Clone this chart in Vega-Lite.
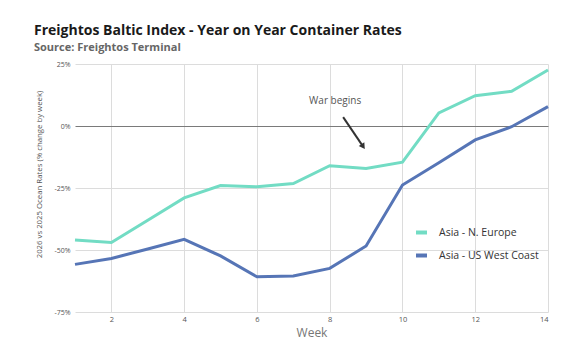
{
  "$schema": "https://vega.github.io/schema/vega-lite/v6.json",
  "width": 473,
  "height": 248,
  "autosize": {"type": "none"},
  "padding": {"left": 75, "top": 64, "right": 32, "bottom": 39},
  "background": "white",
  "title": {
    "text": "Freightos Baltic Index - Year on Year Container Rates",
    "subtitle": "Source: Freightos Terminal",
    "anchor": "start",
    "frame": "group",
    "dx": -41,
    "offset": 7,
    "font": "Open Sans",
    "fontSize": 14,
    "fontWeight": "bold",
    "color": "#1a1a1a",
    "subtitleFont": "Open Sans",
    "subtitleFontSize": 11,
    "subtitleFontWeight": "bold",
    "subtitleColor": "#666666",
    "subtitlePadding": 4
  },
  "config": {
    "view": {"stroke": null},
    "axis": {"labelFont": "Open Sans", "titleFont": "Open Sans"}
  },
  "datasets": {
    "rates": [
      {"week": 1, "route": "Asia - N. Europe", "value": -46},
      {"week": 2, "route": "Asia - N. Europe", "value": -47},
      {"week": 3, "route": "Asia - N. Europe", "value": -38},
      {"week": 4, "route": "Asia - N. Europe", "value": -29},
      {"week": 5, "route": "Asia - N. Europe", "value": -24},
      {"week": 6, "route": "Asia - N. Europe", "value": -24.5},
      {"week": 7, "route": "Asia - N. Europe", "value": -23.2},
      {"week": 8, "route": "Asia - N. Europe", "value": -16},
      {"week": 9, "route": "Asia - N. Europe", "value": -17.1},
      {"week": 10, "route": "Asia - N. Europe", "value": -14.6},
      {"week": 11, "route": "Asia - N. Europe", "value": 5.3},
      {"week": 12, "route": "Asia - N. Europe", "value": 12.2},
      {"week": 13, "route": "Asia - N. Europe", "value": 14},
      {"week": 14, "route": "Asia - N. Europe", "value": 22.6},
      {"week": 1, "route": "Asia - US West Coast", "value": -55.8},
      {"week": 2, "route": "Asia - US West Coast", "value": -53.4},
      {"week": 3, "route": "Asia - US West Coast", "value": -49.6},
      {"week": 4, "route": "Asia - US West Coast", "value": -45.7},
      {"week": 5, "route": "Asia - US West Coast", "value": -52.4},
      {"week": 6, "route": "Asia - US West Coast", "value": -60.8},
      {"week": 7, "route": "Asia - US West Coast", "value": -60.5},
      {"week": 8, "route": "Asia - US West Coast", "value": -57.4},
      {"week": 9, "route": "Asia - US West Coast", "value": -48.4},
      {"week": 10, "route": "Asia - US West Coast", "value": -23.8},
      {"week": 11, "route": "Asia - US West Coast", "value": -14.8},
      {"week": 12, "route": "Asia - US West Coast", "value": -5.6},
      {"week": 13, "route": "Asia - US West Coast", "value": -0.3},
      {"week": 14, "route": "Asia - US West Coast", "value": 7.8}
    ],
    "note": [
      {"label": "War begins", "tx": 8.15, "ty": 10.1, "ax": 8.37, "ay": 3.6, "bx": 8.92, "by": -8.3}
    ]
  },
  "layer": [
    {
      "data": {"name": "rates"},
      "mark": {"type": "line", "strokeWidth": 3, "interpolate": "linear"},
      "encoding": {
        "x": {
          "field": "week",
          "type": "quantitative",
          "scale": {"domain": [1, 14], "nice": false, "zero": false},
          "axis": {
            "values": [2, 4, 6, 8, 10, 12, 14],
            "title": "Week",
            "titleFontSize": 12,
            "titleFontWeight": "normal",
            "titleColor": "#777777",
            "titlePadding": 5,
            "labelFontSize": 7.5,
            "labelColor": "#555555",
            "labelPadding": 3,
            "domain": false,
            "ticks": false,
            "grid": true,
            "gridColor": "#dcdcdc",
            "gridWidth": 1
          }
        },
        "y": {
          "field": "value",
          "type": "quantitative",
          "scale": {"domain": [-75, 25], "nice": false, "zero": false},
          "axis": {
            "values": [-75, -50, -25, 0, 25],
            "labelExpr": "datum.value + '%'",
            "title": "2026 vs 2025 Ocean Rates  (% change by week)",
            "titleFontSize": 7.8,
            "titleFontWeight": "normal",
            "titleColor": "#555555",
            "titlePadding": 10,
            "titleY": 110,
            "labelFontSize": 7,
            "labelColor": "#555555",
            "labelPadding": 5,
            "domain": false,
            "ticks": false,
            "grid": true,
            "gridColor": {"condition": {"test": "datum.value === 0", "value": "#7a7a7a"}, "value": "#dcdcdc"},
            "gridWidth": 1
          }
        },
        "color": {
          "field": "route",
          "type": "nominal",
          "scale": {"domain": ["Asia - N. Europe", "Asia - US West Coast"], "range": ["#72dcc4", "#5675b6"]},
          "legend": {
            "title": null,
            "orient": "none",
            "legendX": 339,
            "legendY": 161,
            "symbolType": "stroke",
            "symbolStrokeWidth": 4,
            "symbolSize": 120,
            "labelFont": "Open Sans",
            "labelFontSize": 10.5,
            "labelColor": "#333333",
            "labelOffset": 10,
            "rowPadding": 6
          }
        }
      }
    },
    {
      "data": {"name": "note"},
      "mark": {"type": "text", "font": "Open Sans", "fontSize": 10, "color": "#555555"},
      "encoding": {
        "x": {"field": "tx", "type": "quantitative"},
        "y": {"field": "ty", "type": "quantitative"},
        "text": {"field": "label"}
      }
    },
    {
      "data": {"name": "note"},
      "mark": {"type": "rule", "color": "#333333", "strokeWidth": 2},
      "encoding": {
        "x": {"field": "ax", "type": "quantitative"},
        "y": {"field": "ay", "type": "quantitative"},
        "x2": {"field": "bx"},
        "y2": {"field": "by"}
      }
    },
    {
      "data": {"name": "note"},
      "mark": {"type": "point", "shape": "triangle-up", "filled": true, "color": "#333333", "size": 45, "opacity": 1, "angle": 146},
      "encoding": {
        "x": {"field": "bx", "type": "quantitative"},
        "y": {"field": "by", "type": "quantitative"}
      }
    }
  ]
}
